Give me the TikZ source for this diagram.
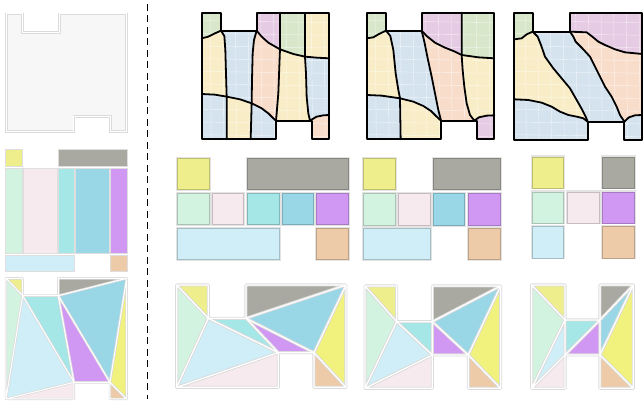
\documentclass[tikz,border=0pt]{standalone}
\definecolor{cyel}{HTML}{EFEE8C}
\definecolor{cyelb}{HTML}{F1F27E}
\definecolor{cgray}{HTML}{A9A9A1}
\definecolor{cmint}{HTML}{D3F3E1}
\definecolor{cpink}{HTML}{F7EAEE}
\definecolor{ccyan}{HTML}{A5E6E6}
\definecolor{cblue}{HTML}{99D7E7}
\definecolor{cpurp}{HTML}{D198F3}
\definecolor{clblue}{HTML}{CFEEF7}
\definecolor{ctan}{HTML}{EDCAA8}
\definecolor{mgreen}{HTML}{D8E7C9}
\definecolor{mblue}{HTML}{D5E3EF}
\definecolor{myellow}{HTML}{F9EDC7}
\definecolor{mpeach}{HTML}{F8DDCB}
\definecolor{mlav}{HTML}{E5CBE3}
\tikzset{
  meshline/.style={line width=1.8pt, line join=round, line cap=round, black},
  meshgrid/.style={white, opacity=.6, line width=.45pt},
  triglow/.style={draw=black!14, line width=3pt, line join=round},
  triline/.style={draw=white, line width=1.2pt, line join=round},
  cellglow/.style={draw=black!11, line width=2.4pt},
  celledge/.style={line width=.5pt},
  smallcell/.style={draw=black!13, line width=1pt},
}
\newcommand{\hshape}{(P1)--(P2)--(P3)--(P4)--(P5)--(P6)--(P7)--(P8)--(P9)--(P10)--(P11)--(P12)--cycle}
\newcommand{\hfills}{%
  \fill[cyel] (P1)--(P2)--(P3)--cycle;
  \fill[cmint] (P1)--(P3)--(P12)--cycle;
  \fill[clblue] (P3)--(P10)--(P12)--cycle;
  \fill[ccyan] (P3)--(P4)--(P10)--cycle;
  \fill[cpink] (P12)--(P10)--(P11)--cycle;
  \fill[cgray] (P5)--(P6)--(P4)--cycle;
  \fill[cblue] (P4)--(P6)--(P9)--cycle;
  \fill[cpurp] (P4)--(P9)--(P10)--cycle;
  \fill[cyelb] (P6)--(P7)--(P9)--cycle;
  \fill[ctan] (P9)--(P7)--(P8)--cycle;}
\newcommand{\hedges}[1]{%
  \draw[#1] \hshape (P1)--(P3)--(P12) (P3)--(P10)--(P12) (P4)--(P10)
    (P6)--(P4)--(P9)--(P6) (P7)--(P9);}
\newcommand{\cell}[5]{%
  \draw[cellglow] (#1,#2) rectangle ++(#3,#4);
  \fill[#5] (#1,#2) rectangle ++(#3,#4);
  \draw[celledge, #5!80!black] (#1+.4,#2+.4) rectangle ++(#3-.8,#4-.8);}
\newcommand{\scell}[5]{%
  \draw[smallcell, fill=#5] (#1,#2) rectangle (#3,#4);}
\newcommand{\meshgridlines}{%
  \foreach \gx in {60,98,136,174,212,250,288,326,364,402}{\draw[meshgrid] (\gx,30)--(\gx+4,430);}
  \foreach \gy in {62,100,138,176,214,252,290,328,366,404}{\draw[meshgrid] (20,\gy)--(430,\gy+6);}}
\begin{document}
\begin{tikzpicture}[x=1pt,y=-1pt]
\useasboundingbox (0,0) rectangle (643,403);
\fill[white] (0,0) rectangle (643,403);

% ---------- panel 1: empty domain
\begin{scope}[x=.3333pt,y=-.3333pt]
  \coordinate (P1) at (20,42); \coordinate (P2) at (68,42); \coordinate (P3) at (68,97);
  \coordinate (P4) at (178,97); \coordinate (P5) at (178,42); \coordinate (P6) at (380,42);
  \coordinate (P7) at (380,395); \coordinate (P8) at (332,395); \coordinate (P9) at (332,350);
  \coordinate (P10) at (222,350); \coordinate (P11) at (222,395); \coordinate (P12) at (20,395);
  \draw[draw=black!14, line width=2.6pt, fill=black!3] \hshape;
  \draw[draw=white, line width=1pt] \hshape;
\end{scope}

% ---------- panel 2: left rectangles
\scell{5}{150}{22}{167}{cyel}
\scell{58}{150}{127}{167}{cgray}
\scell{5}{168.5}{22}{254}{cmint}
\scell{23.5}{168.5}{57}{254}{cpink}
\scell{58}{168.5}{74}{254}{ccyan}
\scell{75.5}{168.5}{109}{254}{cblue}
\scell{110.5}{168.5}{127}{254}{cpurp}
\scell{5}{255.5}{74}{272}{clblue}
\scell{110.5}{255.5}{127}{272}{ctan}

% ---------- panel 3: left triangulation
\begin{scope}[yshift=-275pt,x=.3333pt,y=-.3333pt]
  \coordinate (P1) at (18,10); \coordinate (P2) at (68,10); \coordinate (P3) at (68,62);
  \coordinate (P4) at (175,62); \coordinate (P5) at (175,10); \coordinate (P6) at (380,10);
  \coordinate (P7) at (380,372); \coordinate (P8) at (330,372); \coordinate (P9) at (330,322);
  \coordinate (P10) at (222,322); \coordinate (P11) at (222,372); \coordinate (P12) at (18,372);
  \hfills
  \hedges{draw=black!14, line width=2.4pt, line join=round}
  \hedges{draw=white, line width=1pt, line join=round}
\end{scope}

% ---------- dashed separator
\coordinate (dtop) at (147,4);
\coordinate (dbot) at (147,399);
\draw[line width=1pt, dash pattern=on 7pt off 4.5pt] (dtop) -- (dbot);

% ---------- panel 4: mesh
\begin{scope}[xshift=190pt,x=.3333pt,y=-.3333pt]
  \fill[mblue] (35,38)--(93,38)--(93,92)--(200,92)--(200,38)--(418,38)--(418,418)--(365,418)--(365,362)--(258,362)--(258,418)--(35,418)--cycle;
  \fill[mgreen] (35,38)--(93,38)--(93,92)--(75,100)--(55,110)--(35,115)--cycle;
  \fill[myellow] (35,115)--(55,110)--(75,100)--(93,92)--(103,108)--(106,150)--(108,220)--(110,290)--(75,284)--(35,282)--cycle;
  \fill[myellow] (110,290)--(150,298)--(185,310)--(182,418)--(110,418)--cycle;
  \fill[mlav] (200,38)--(270,38)--(270,148)--(235,128)--(215,110)--(200,92)--cycle;
  \fill[mgreen] (270,38)--(345,38)--(345,170)--(310,162)--(270,148)--cycle;
  \fill[myellow] (345,38)--(418,38)--(418,175)--(380,173)--(345,170)--cycle;
  \fill[mpeach] (200,92)--(215,110)--(235,128)--(270,148)--(268,200)--(265,280)--(260,340)--(258,362)--(250,355)--(235,340)--(215,325)--(185,310)--(186,240)--(188,160)--(192,120)--cycle;
  \fill[myellow] (270,148)--(310,162)--(345,170)--(348,220)--(350,290)--(355,340)--(360,362)--(258,362)--(260,340)--(265,280)--(268,200)--cycle;
  \fill[mpeach] (360,362)--(380,350)--(400,346)--(418,345)--(418,418)--(365,418)--(365,362)--cycle;
  \begin{scope}
    \clip (35,38)--(93,38)--(93,92)--(200,92)--(200,38)--(418,38)--(418,418)--(365,418)--(365,362)--(258,362)--(258,418)--(35,418)--cycle;
    \meshgridlines
  \end{scope}
  \draw[meshline] (35,38)--(93,38)--(93,92)--(200,92)--(200,38)--(418,38)--(418,418)--(365,418)--(365,362)--(258,362)--(258,418)--(35,418)--cycle;
  \draw[meshline] (35,115)--(55,110)--(75,100)--(93,92)--(103,108)--(106,150)--(108,220)--(110,290)--(110,418);
  \draw[meshline] (35,282)--(75,284)--(110,290)--(150,298)--(185,310)--(215,325)--(235,340)--(250,355)--(258,362);
  \draw[meshline] (200,92)--(192,120)--(188,160)--(186,240)--(185,310)--(182,418);
  \draw[meshline] (200,92)--(215,110)--(235,128)--(270,148)--(310,162)--(345,170)--(380,173)--(418,175);
  \draw[meshline] (270,38)--(270,148)--(268,200)--(265,280)--(260,340)--(258,362);
  \draw[meshline] (345,38)--(345,170)--(348,220)--(350,290)--(355,340)--(360,362)--(380,350)--(400,346)--(418,345);
\end{scope}

% ---------- panel 5: mesh
\begin{scope}[xshift=355pt,x=.3333pt,y=-.3333pt]
  \fill[mblue] (35,38)--(93,38)--(93,92)--(200,92)--(200,38)--(418,38)--(418,418)--(365,418)--(365,362)--(258,362)--(258,418)--(35,418)--cycle;
  \fill[mgreen] (35,38)--(93,38)--(93,92)--(72,102)--(55,112)--(35,115)--cycle;
  \fill[myellow] (35,115)--(55,112)--(72,102)--(93,92)--(106,108)--(115,150)--(122,220)--(130,270)--(135,295)--(80,287)--(35,285)--cycle;
  \fill[myellow] (135,295)--(175,305)--(205,318)--(228,333)--(245,350)--(258,362)--(258,418)--(137,418)--cycle;
  \fill[mlav] (200,38)--(320,38)--(320,165)--(300,155)--(270,143)--(240,128)--(215,108)--(200,92)--cycle;
  \fill[mgreen] (320,38)--(418,38)--(418,175)--(370,172)--(320,165)--cycle;
  \fill[mpeach] (200,92)--(215,108)--(240,128)--(270,143)--(300,155)--(320,165)--(323,210)--(328,260)--(335,310)--(345,345)--(358,362)--(258,362)--(250,330)--(242,290)--(230,230)--(218,175)--(208,125)--cycle;
  \fill[myellow] (320,165)--(370,172)--(418,175)--(418,346)--(395,347)--(372,352)--(358,362)--(345,345)--(335,310)--(328,260)--(323,210)--cycle;
  \fill[mlav] (358,362)--(372,352)--(395,347)--(418,346)--(418,418)--(365,418)--(365,362)--cycle;
  \begin{scope}
    \clip (35,38)--(93,38)--(93,92)--(200,92)--(200,38)--(418,38)--(418,418)--(365,418)--(365,362)--(258,362)--(258,418)--(35,418)--cycle;
    \meshgridlines
  \end{scope}
  \draw[meshline] (35,38)--(93,38)--(93,92)--(200,92)--(200,38)--(418,38)--(418,418)--(365,418)--(365,362)--(258,362)--(258,418)--(35,418)--cycle;
  \draw[meshline] (35,115)--(55,112)--(72,102)--(93,92)--(106,108)--(115,150)--(122,220)--(130,270)--(135,295)--(137,418);
  \draw[meshline] (35,285)--(80,287)--(135,295)--(175,305)--(205,318)--(228,333)--(245,350)--(258,362);
  \draw[meshline] (200,92)--(208,125)--(218,175)--(230,230)--(242,290)--(250,330)--(258,362);
  \draw[meshline] (200,92)--(215,108)--(240,128)--(270,143)--(300,155)--(320,165)--(370,172)--(418,175);
  \draw[meshline] (320,38)--(320,165)--(323,210)--(328,260)--(335,310)--(345,345)--(358,362)--(372,352)--(395,347)--(418,346);
\end{scope}

% ---------- panel 6: mesh
\begin{scope}[xshift=505pt,x=.3333pt,y=-.3333pt]
  \fill[mblue] (28,38)--(83,38)--(83,95)--(195,95)--(195,38)--(412,38)--(412,420)--(358,420)--(358,365)--(248,365)--(248,420)--(28,420)--cycle;
  \fill[mgreen] (28,38)--(83,38)--(83,95)--(65,103)--(50,115)--(28,118)--cycle;
  \fill[myellow] (28,118)--(50,115)--(65,103)--(83,95)--(98,110)--(108,135)--(120,170)--(145,205)--(170,235)--(195,265)--(215,300)--(232,330)--(242,350)--(248,365)--(235,355)--(215,350)--(190,345)--(165,335)--(140,320)--(110,308)--(70,300)--(28,298)--cycle;
  \fill[mlav] (195,38)--(412,38)--(412,162)--(360,157)--(330,148)--(300,135)--(280,125)--(262,110)--(245,97)--(195,95)--cycle;
  \fill[mpeach] (195,95)--(245,97)--(262,110)--(280,125)--(300,135)--(330,148)--(360,157)--(412,162)--(412,345)--(390,346)--(372,352)--(358,365)--(345,345)--(335,320)--(320,290)--(300,260)--(285,230)--(270,200)--(255,170)--(232,145)--(212,125)--(205,110)--cycle;
  \begin{scope}
    \clip (28,38)--(83,38)--(83,95)--(195,95)--(195,38)--(412,38)--(412,420)--(358,420)--(358,365)--(248,365)--(248,420)--(28,420)--cycle;
    \meshgridlines
  \end{scope}
  \draw[meshline] (28,38)--(83,38)--(83,95)--(195,95)--(195,38)--(412,38)--(412,420)--(358,420)--(358,365)--(248,365)--(248,420)--(28,420)--cycle;
  \draw[meshline] (28,118)--(50,115)--(65,103)--(83,95)--(98,110)--(108,135)--(120,170)--(145,205)--(170,235)--(195,265)--(215,300)--(232,330)--(242,350)--(248,365);
  \draw[meshline] (28,298)--(70,300)--(110,308)--(140,320)--(165,335)--(190,345)--(215,350)--(235,355)--(248,365);
  \draw[meshline] (195,95)--(245,97)--(262,110)--(280,125)--(300,135)--(330,148)--(360,157)--(412,162);
  \draw[meshline] (195,95)--(205,110)--(212,125)--(232,145)--(255,170)--(270,200)--(285,230)--(300,260)--(320,290)--(335,320)--(345,345)--(358,365)--(372,352)--(390,346)--(412,345);
\end{scope}

% ---------- panel 7: rectangles
\cell{177.3}{158.3}{32}{31.7}{cyel}
\cell{246.7}{158.3}{101.6}{31.7}{cgray}
\cell{177.3}{193.3}{32}{31.7}{cmint}
\cell{211.7}{193.3}{32.3}{31.7}{cpink}
\cell{246.7}{193.3}{32.6}{31.7}{ccyan}
\cell{281.7}{193.3}{31.6}{31.7}{cblue}
\cell{316}{193.3}{32.3}{31.7}{cpurp}
\cell{177.3}{228.3}{102}{31.7}{clblue}
\cell{316}{228.3}{32.3}{31.7}{ctan}

% ---------- panel 8: rectangles
\cell{363.3}{158.3}{32.4}{31.7}{cyel}
\cell{433.3}{158.3}{67.4}{31.7}{cgray}
\cell{363.3}{193.3}{32.4}{32.4}{cmint}
\cell{398.3}{193.3}{32.7}{32.4}{cpink}
\cell{433.3}{193.3}{31.7}{32.4}{cblue}
\cell{468.3}{193.3}{32.4}{32.4}{cpurp}
\cell{363.3}{228.3}{67.7}{31.7}{clblue}
\cell{468.3}{228.3}{32.4}{31.7}{ctan}

% ---------- panel 9: rectangles
\cell{531.7}{156.7}{32.3}{31.6}{cyel}
\cell{601.7}{156.7}{33.3}{31.6}{cgray}
\cell{531.7}{191.7}{32.3}{31.6}{cmint}
\cell{566.7}{191.7}{32.6}{31.6}{cpink}
\cell{601.7}{191.7}{33.3}{31.6}{cpurp}
\cell{531.7}{226}{32.3}{32.3}{clblue}
\cell{601.7}{226}{33.3}{32.3}{ctan}

% ---------- panel 10: triangulation
\begin{scope}[xshift=170pt,yshift=-280pt,x=.3333pt,y=-.3333pt]
  \coordinate (P1) at (20,15); \coordinate (P2) at (115,15); \coordinate (P3) at (115,115);
  \coordinate (P4) at (228,115); \coordinate (P5) at (228,15); \coordinate (P6) at (528,15);
  \coordinate (P7) at (528,322); \coordinate (P8) at (432,322); \coordinate (P9) at (432,218);
  \coordinate (P10) at (325,218); \coordinate (P11) at (325,322); \coordinate (P12) at (20,322);
  \hfills
  \hedges{triglow}
  \hedges{triline}
\end{scope}

% ---------- panel 11: triangulation
\begin{scope}[xshift=355pt,yshift=-280pt,x=.3333pt,y=-.3333pt]
  \coordinate (P1) at (30,18); \coordinate (P2) at (125,18); \coordinate (P3) at (125,125);
  \coordinate (P4) at (232,125); \coordinate (P5) at (232,18); \coordinate (P6) at (437,18);
  \coordinate (P7) at (437,325); \coordinate (P8) at (340,325); \coordinate (P9) at (340,225);
  \coordinate (P10) at (232,225); \coordinate (P11) at (232,325); \coordinate (P12) at (30,325);
  \hfills
  \hedges{triglow}
  \hedges{triline}
\end{scope}

% ---------- panel 12: triangulation
\begin{scope}[xshift=520pt,yshift=-280pt,x=.3333pt,y=-.3333pt]
  \coordinate (P1) at (35,15); \coordinate (P2) at (135,15); \coordinate (P3) at (135,120);
  \coordinate (P4) at (240,120); \coordinate (P5) at (240,15); \coordinate (P6) at (340,15);
  \coordinate (P7) at (340,325); \coordinate (P8) at (240,325); \coordinate (P9) at (240,225);
  \coordinate (P10) at (135,225); \coordinate (P11) at (135,325); \coordinate (P12) at (35,325);
  \hfills
  \hedges{triglow}
  \hedges{triline}
\end{scope}
\end{tikzpicture}
\end{document}
